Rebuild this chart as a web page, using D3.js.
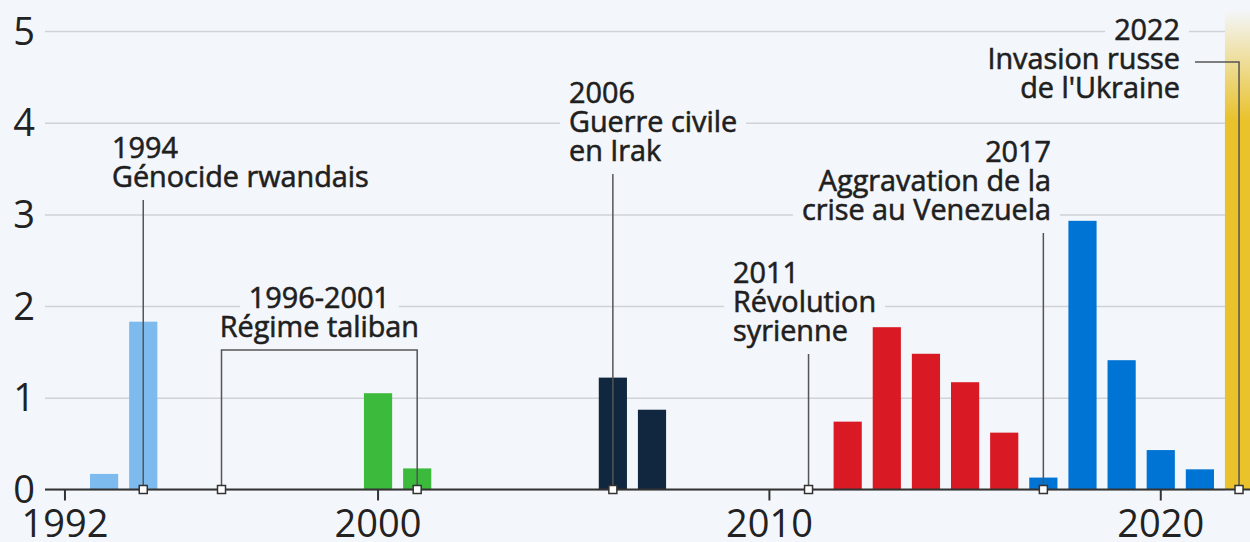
<!DOCTYPE html>
<html>
<head>
<meta charset="utf-8">
<title>Refugees chart</title>
<script src="https://d3js.org/d3.v7.min.js"></script>
<style>
  html, body { margin: 0; padding: 0; background: #f3f6fa; }
  svg { display: block; font-family: "Open Sans", "Noto Sans", sans-serif; }
</style>
</head>
<body>
<svg id="chart" width="1250" height="542"></svg>
<script>
  // data (millions)
  var years = [1993, 1994, 2000, 2001, 2006, 2007, 2012, 2013, 2014, 2015, 2016, 2017, 2018, 2019, 2020, 2021, 2022];
  var values = [0.17, 1.83, 1.05, 0.23, 1.22, 0.87, 0.74, 1.77, 1.48, 1.17, 0.62, 0.13, 2.93, 1.41, 0.43, 0.22, 8];
  var groups = ["rw", "rw", "af", "af", "iq", "iq", "sy", "sy", "sy", "sy", "sy", "ve", "ve", "ve", "ve", "ve", "ua"];
  var groupColors = { rw: "#7dbbee", af: "#3cba3c", iq: "#11263f", sy: "#d91a25", ve: "#0074d4", ua: "url(#gold)" };
  var yTicks = [0, 1, 2, 3, 4, 5];
  var xTicks = [1992, 2000, 2010, 2020];

  // annotations
  var noteYears = [1994, 2006, 2011, 2017, 2022];
  var noteLines = [
    ["1994", "Génocide rwandais"],
    ["2006", "Guerre civile", "en Irak"],
    ["2011", "Révolution", "syrienne"],
    ["2017", "Aggravation de la", "crise au Venezuela"],
    ["2022", "Invasion russe", "de l'Ukraine"]
  ];
  var talibanYears = [1996, 2001];
  var talibanLines = ["1996-2001", "Régime taliban"];

  var width = 1250, height = 542;
  var svg = d3.select("#chart");

  var allYears = d3.range(1992, 2023);
  var x = d3.scaleBand().domain(allYears).range([45.4, 1258.6]).paddingInner(0.28).paddingOuter(0.14);
  var cx = function(yr) { return x(yr) + x.bandwidth() / 2; };
  var y = d3.scaleLinear().domain([0, 5]).range([489.5, 31]);

  var defs = svg.append("defs");
  var grad = defs.append("linearGradient").attr("id", "gold")
    .attr("gradientUnits", "userSpaceOnUse")
    .attr("x1", 0).attr("x2", 0).attr("y1", 10).attr("y2", 120);
  grad.append("stop").attr("offset", 0).attr("stop-color", "#e9c22c").attr("stop-opacity", 0);
  grad.append("stop").attr("offset", 1).attr("stop-color", "#e9c22c").attr("stop-opacity", 1);

  // grid
  svg.append("g")
    .attr("transform", "translate(45,0)")
    .call(d3.axisLeft(y).tickValues(yTicks).tickSize(-1180).tickFormat(""))
    .call(function(g) {
      g.select(".domain").remove();
      g.selectAll("line").attr("stroke", "#cfd2d6").attr("stroke-width", 1.5);
    });

  // y labels
  svg.append("g").selectAll("text")
    .data(yTicks)
    .enter()
    .append("text")
    .attr("x", 24)
    .attr("y", function(d) { return y(d); })
    .attr("dy", "0.36em")
    .attr("text-anchor", "middle")
    .attr("font-size", 38)
    .attr("fill", "#222")
    .text(function(d) { return d; });

  // bars
  svg.append("g").selectAll("rect")
    .data(years)
    .enter()
    .append("rect")
    .attr("x", function(d) { return x(d); })
    .attr("width", x.bandwidth())
    .attr("y", function(d, i) { return y(values[i]); })
    .attr("height", function(d, i) { return y(0) - y(values[i]); })
    .attr("fill", function(d, i) { return groupColors[groups[i]]; });

  // x axis
  var xAxis = svg.append("g")
    .attr("transform", "translate(0," + y(0) + ")")
    .call(d3.axisBottom(x).tickValues(xTicks).tickSize(11).tickPadding(9).tickSizeOuter(0));
  xAxis.select(".domain").attr("stroke", "#333").attr("stroke-width", 2).attr("d", "M45,0H1250");
  xAxis.selectAll(".tick line").attr("stroke", "#333").attr("stroke-width", 2);
  xAxis.selectAll(".tick text").attr("font-size", 38).attr("fill", "#222")
    .attr("font-family", "'Open Sans', sans-serif").attr("dy", "0.72em");

  // annotations
  var halo = svg.append("g");
  var ann = svg.append("g");
  var lineH = 29;
  var fontSize = 28.8;
  // layout of each note: text anchor x, first baseline, anchor
  var noteLayout = [
    { tx: 112, ty: 158, anchor: "start" },
    { tx: 569, ty: 103, anchor: "start" },
    { tx: 733, ty: 283, anchor: "start" },
    { tx: 1051, ty: 162, anchor: "end" },
    { tx: 1180, ty: 40, anchor: "end" }
  ];

  function drawText(lines, tx, ty, anchor) {
    lines.forEach(function(l, i) {
      var t = ann.append("text")
        .attr("x", tx)
        .attr("y", ty + i * lineH)
        .attr("text-anchor", anchor)
        .attr("font-size", fontSize)
        .attr("fill", "#1f1f1f")
        .attr("stroke", "#1f1f1f")
        .attr("stroke-width", 0.6)
        .text(l);
      var bb = t.node().getBBox();
      halo.append("rect")
        .attr("x", bb.x - 9)
        .attr("y", ty + i * lineH - 24)
        .attr("width", bb.width + 18)
        .attr("height", 32)
        .attr("fill", "#f3f6fa");
    });
  }

  noteYears.forEach(function(yr, i) {
    var L = noteLayout[i];
    drawText(noteLines[i], L.tx, L.ty, L.anchor);
  });
  var b0 = cx(talibanYears[0]), b1 = cx(talibanYears[1]);
  drawText(talibanLines, (b0 + b1) / 2, 308, "middle");

  // connector lines
  var lineColor = "#555";
  noteYears.forEach(function(yr, i) {
    var L = noteLayout[i];
    var px = cx(yr);
    var bottomText = L.ty + (noteLines[i].length - 1) * lineH;
    if (yr === 2022) {
      var hy = L.ty + lineH - 7;
      ann.append("path")
        .attr("d", "M" + (L.tx + 15) + "," + hy + "H" + px + "V" + y(0))
        .attr("fill", "none").attr("stroke", lineColor).attr("stroke-width", 1.5);
    } else {
      ann.append("line")
        .attr("x1", px).attr("x2", px)
        .attr("y1", bottomText + 13).attr("y2", y(0))
        .attr("stroke", lineColor).attr("stroke-width", 1.5);
    }
  });

  // taliban bracket
  ann.append("path")
    .attr("d", "M" + b0 + "," + y(0) + "V350H" + b1 + "V" + y(0))
    .attr("fill", "none").attr("stroke", lineColor).attr("stroke-width", 1.5);

  // markers
  var markerYears = [1994, 1996, 2001, 2006, 2011, 2017, 2022];
  ann.selectAll("rect.marker")
    .data(markerYears)
    .enter()
    .append("rect")
    .attr("class", "marker")
    .attr("x", function(d) { return cx(d) - 4; })
    .attr("y", y(0) - 4)
    .attr("width", 8)
    .attr("height", 8)
    .attr("fill", "#fff")
    .attr("stroke", "#333")
    .attr("stroke-width", 1.5);
</script>
</body>
</html>
